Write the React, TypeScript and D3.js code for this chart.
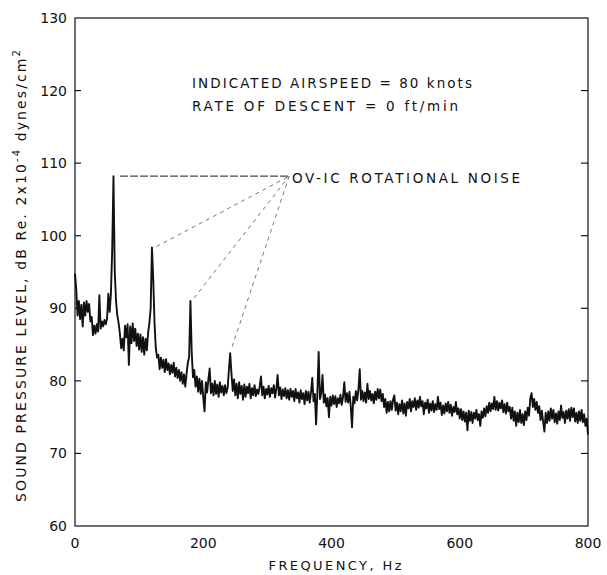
import React from 'react';
import * as d3 from 'd3';

// Spectrum sampled every 2 Hz from 0 to 800 Hz (dB re 2x10^-4 dynes/cm^2)
const FREQ_STEP = 2;
const LEVELS: number[] = [
  94.8, 92.5, 89.0, 91.0, 88.5, 90.5, 87.5, 90.8, 89.0, 91.0,
  89.5, 90.6, 88.2, 88.8, 86.3, 87.6, 86.5, 87.8, 86.8, 91.8,
  87.2, 88.2, 87.5, 88.4, 87.8, 88.6, 92.0, 89.5, 92.0, 98.0,
  108.2, 95.0, 91.0, 89.0, 88.0, 86.5, 84.5, 85.8, 84.2, 87.6,
  86.0, 87.8, 82.2, 87.5, 85.2, 87.9, 85.5, 87.2, 84.8, 86.5,
  84.3, 86.4, 84.0, 86.0, 83.6, 85.8, 84.2, 86.6, 88.0, 90.0,
  98.4, 94.0, 88.0, 84.5, 83.2, 83.6, 81.6, 83.2, 81.8, 82.9,
  81.2, 83.0, 81.5, 82.4, 80.9, 82.2, 81.1, 82.5, 80.6, 81.8,
  80.4, 81.5, 80.0, 81.2, 79.6, 80.9, 79.2, 81.0, 82.5, 83.3,
  91.0, 84.0, 80.5, 81.5, 79.2, 80.6, 78.5, 80.3, 78.2, 80.0,
  77.8, 75.8, 79.8, 78.4, 80.2, 81.7, 78.3, 79.6, 78.0, 80.0,
  78.2, 79.5, 77.8, 79.8, 78.4, 79.3, 78.0, 79.4, 78.3, 79.0,
  81.5, 83.8, 81.0, 78.6, 80.2, 78.0, 79.6, 77.6, 79.8, 78.2,
  79.3, 77.4, 79.5, 77.8, 79.2, 78.3, 79.6, 77.6, 79.0, 78.0,
  79.4, 77.9, 78.8, 78.2, 79.2, 80.6, 78.0, 79.2, 77.6, 78.9,
  78.1, 79.3, 77.8, 79.0, 78.3, 79.4, 77.7, 78.9, 80.8, 78.0,
  79.1, 77.5, 78.8, 77.9, 79.0, 77.6, 78.7, 77.4, 78.9, 77.8,
  78.6, 77.2, 78.9, 77.6, 78.4, 77.0, 78.7, 77.5, 78.3, 76.8,
  78.6, 77.3, 78.5, 77.0, 78.4, 80.4, 77.2, 78.2, 74.0, 78.5,
  84.0, 77.5, 78.3, 80.8, 77.0, 78.1, 76.5, 77.6, 75.0, 77.8,
  76.6, 78.0, 76.8, 77.9, 76.4, 77.6, 76.9, 78.1, 76.7, 77.8,
  79.8, 77.1, 78.3, 77.0, 78.5, 76.5, 73.6, 77.8, 76.9, 78.6,
  77.3, 78.8, 81.6, 77.4, 78.6, 77.2, 78.4, 77.0, 79.6, 77.5,
  78.6, 77.3, 78.2, 76.9, 78.5, 77.4, 78.9, 77.6, 78.8, 77.2,
  78.2, 76.4, 77.5, 75.6, 77.1, 75.8, 77.2, 76.0, 77.4, 78.0,
  75.9, 77.0, 75.4, 76.8, 75.8, 77.3, 75.5, 76.9, 75.2, 77.1,
  76.2, 77.5, 75.8, 77.2, 76.4, 77.6, 76.0, 77.3, 76.3, 77.8,
  76.5, 77.2, 75.4, 77.0, 76.2, 77.4, 75.6, 76.9, 75.9, 77.2,
  75.7, 76.8, 76.0, 77.8, 76.1, 77.0, 75.3, 76.6, 75.5, 76.9,
  75.8, 77.1, 75.6, 76.7, 75.2, 76.4, 75.7, 77.1, 75.4, 76.2,
  74.8, 76.1, 74.6, 75.8, 74.4, 75.6, 73.2, 75.9, 74.5, 75.7,
  74.2, 75.6, 74.8, 76.0, 74.6, 75.4, 73.8, 75.8, 74.9, 76.2,
  75.1, 76.5, 75.6, 77.0, 75.8, 76.9, 76.1, 77.8, 76.0, 77.2,
  75.9, 77.0, 76.2, 77.3, 75.7, 76.8, 75.5, 77.0, 75.8, 76.4,
  74.8, 76.3, 74.5, 75.8, 73.8, 75.6, 74.3, 76.0, 74.2, 75.4,
  73.9, 75.8, 74.6, 76.3, 75.2, 77.6, 78.3, 76.4, 77.5, 76.0,
  77.1, 75.6, 76.5, 74.6, 75.9, 74.4, 73.0, 75.6, 74.2, 75.8,
  74.5, 76.2, 74.8, 76.0, 74.3, 75.5, 74.1, 75.8, 74.6, 76.6,
  74.9, 75.7, 74.2, 75.9, 74.8, 76.1, 74.5, 76.3, 75.0, 76.2,
  74.4, 75.6, 74.2, 75.8, 74.5, 76.0, 74.3, 75.4, 73.8, 74.8,
  72.6,
];

const Y_TICKS = [60, 70, 80, 90, 100, 110, 120, 130];
const X_TICKS = [0, 200, 400, 600, 800];

// Leader lines: start points (Hz, dB) near each rotational-noise harmonic, all meeting at the hub
const LEADER_STARTS: [number, number][] = [
  [70.2, 108.2],
  [127, 98.5],
  [185.6, 91.4],
  [245, 84.7],
];
const LEADER_HUB: [number, number] = [334, 108.2];

const NOTE_LINES = ['INDICATED AIRSPEED = 80 knots', 'RATE OF DESCENT = 0 ft/min'];
const PEAK_LABEL = 'OV-IC ROTATIONAL NOISE';

const FONT = '"DejaVu Sans", sans-serif';

export default function App() {
  const W = 607;
  const H = 575;
  const x = d3.scaleLinear().domain([0, 800]).range([75, 588]);
  const y = d3.scaleLinear().domain([60, 130]).range([526, 18]);

  const pts: [number, number][] = LEVELS.map((v, i) => [i * FREQ_STEP, v]);
  const line = d3
    .line<[number, number]>()
    .x((d) => x(d[0]))
    .y((d) => y(d[1]));

  const [x0, x1] = x.range();
  const [yb, yt] = y.range();

  return (
    <svg
      width={W}
      height={H}
      viewBox={`0 0 ${W} ${H}`}
      style={{ position: 'absolute', left: 0, top: 0, background: '#fff' }}
    >
      <rect x={0} y={0} width={W} height={H} fill="#fff" />
      {/* leader lines */}
      {LEADER_STARTS.map((s, i) => (
        <line
          key={'ld' + i}
          x1={x(s[0])}
          y1={y(s[1])}
          x2={x(LEADER_HUB[0])}
          y2={y(LEADER_HUB[1])}
          stroke={i === 0 ? '#444' : '#777'}
          strokeWidth={i === 0 ? 1.3 : 1}
          strokeDasharray={i === 0 ? '8 2' : '4 4'}
        />
      ))}
      {/* spectrum */}
      <path d={line(pts) || ''} fill="none" stroke="#111" strokeWidth={1.9} strokeLinejoin="round" />
      {/* frame */}
      <rect x={x0} y={yt} width={x1 - x0} height={yb - yt} fill="none" stroke="#111" strokeWidth={1.2} />
      {/* ticks */}
      {Y_TICKS.slice(1, -1).map((t) => (
        <g key={'yt' + t}>
          <line x1={x0} x2={x0 + 6} y1={y(t)} y2={y(t)} stroke="#111" strokeWidth={1.2} />
          <line x1={x1 - 7} x2={x1} y1={y(t)} y2={y(t)} stroke="#111" strokeWidth={1.2} />
        </g>
      ))}
      {Y_TICKS.map((t) => (
        <text
          key={'yl' + t}
          x={x0 - 8}
          y={y(t) + 5}
          textAnchor="end"
          fontFamily={FONT}
          fontSize={14}
          fill="#111"
        >
          {t}
        </text>
      ))}
      {X_TICKS.map((t) => (
        <text
          key={'xl' + t}
          x={x(t)}
          y={548}
          textAnchor="middle"
          fontFamily={FONT}
          fontSize={14}
          fill="#111"
        >
          {t}
        </text>
      ))}
      <text x={335} y={570} textAnchor="middle" fontFamily={FONT} fontSize={13} fill="#111" textLength={133} lengthAdjust="spacing">
        FREQUENCY,  Hz
      </text>
      <text
        transform="translate(26,276) rotate(-90)"
        textAnchor="middle"
        fontFamily={FONT}
        fontSize={14}
        fill="#111"
        textLength={452}
        lengthAdjust="spacing"
      >
        SOUND PRESSURE LEVEL, dB Re. 2x10
        <tspan fontSize={10} dy={-6}>-4</tspan>
        <tspan dy={6}> dynes/cm</tspan>
        <tspan fontSize={10} dy={-6}>2</tspan>
      </text>
      {NOTE_LINES.map((s, i) => (
        <text
          key={'n' + i}
          x={192}
          y={88 + i * 23}
          fontFamily={FONT}
          fontSize={13.5}
          fill="#111"
          textLength={i === 0 ? 280 : 266}
          lengthAdjust="spacing"
        >
          {s}
        </text>
      ))}
      <text x={292} y={183} fontFamily={FONT} fontSize={13.5} fill="#111" textLength={228} lengthAdjust="spacing">
        {PEAK_LABEL}
      </text>
    </svg>
  );
}
